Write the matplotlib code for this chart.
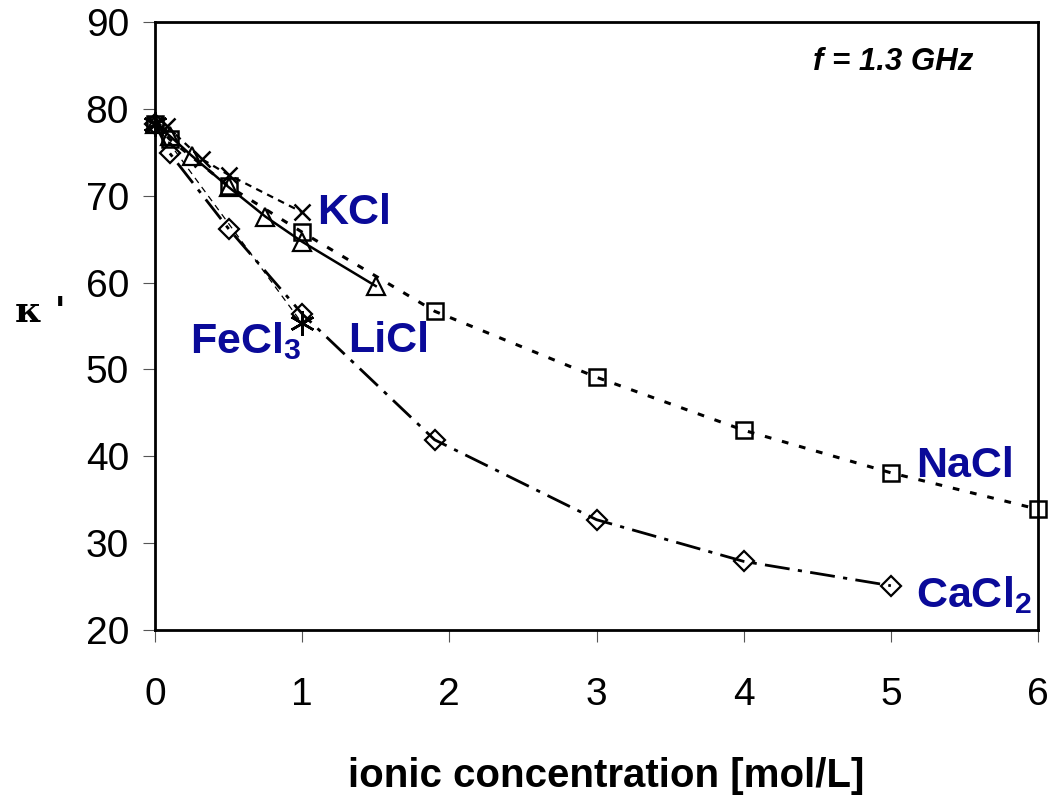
import matplotlib
matplotlib.use("Agg")
import matplotlib.pyplot as plt

# dielectric constant vs ionic concentration at 1.3 GHz
nacl_x = [0, 0.1, 0.5, 1, 1.9, 3, 4, 5, 6]
nacl_y = [78.3, 76.5, 71.1, 65.8, 56.7, 49.1, 43.0, 38.1, 33.9]

cacl2_x = [0, 0.1, 0.5, 1, 1.9, 3, 4, 5]
cacl2_y = [78.3, 74.9, 66.2, 56.4, 41.9, 32.7, 27.9, 25.1]

licl_x = [0, 0.1, 0.25, 0.5, 0.75, 1, 1.5]
licl_y = [78.3, 76.9, 74.6, 71.0, 67.6, 64.7, 59.6]

kcl_x = [0, 0.08, 0.32, 0.5, 1]
kcl_y = [78.3, 78.0, 74.2, 72.4, 68.1]

fecl3_x = [0, 1]
fecl3_y = [78.3, 55.3]

x_ticks = [0, 1, 2, 3, 4, 5, 6]
y_ticks = [20, 30, 40, 50, 60, 70, 80, 90]

plt.rcParams['font.family'] = ['Liberation Sans', 'DejaVu Sans']
plt.rcParams['mathtext.fontset'] = 'custom'
plt.rcParams['mathtext.bf'] = 'Liberation Sans:bold'
plt.rcParams['mathtext.rm'] = 'Liberation Sans:bold'

blue = '#0a0a99'

fig = plt.figure(figsize=(10.57, 7.99), dpi=100)
ax = fig.add_axes([0.1466, 0.2115, 0.8355, 0.761])

# lines
ax.plot(fecl3_x, fecl3_y, color='k', lw=0.9, ls=(0, (5, 4)), zorder=2)
ax.plot(cacl2_x, cacl2_y, color='k', lw=2.0, ls=(0, (9, 3, 1.5, 3)), zorder=2)
ax.plot(nacl_x, nacl_y, color='k', lw=2.2, ls=(0, (2.2, 3.6)), zorder=2)
ax.plot(licl_x, licl_y, color='k', lw=1.8, ls='-', zorder=2)
ax.plot(kcl_x, kcl_y, color='k', lw=1.6, ls=(0, (3, 2.5)), zorder=2)

# markers
mk = dict(ls='none', zorder=3, clip_on=False)
ax.plot(nacl_x, nacl_y, marker='s', ms=12, mfc='none', mec='k', mew=1.8, **mk)
ax.plot(cacl2_x, cacl2_y, marker='D', ms=10, mfc='none', mec='k', mew=1.6, **mk)
ax.plot(licl_x, licl_y, marker='^', ms=13, mfc='none', mec='k', mew=1.6, **mk)
ax.plot(kcl_x, kcl_y, marker='x', ms=11, mec='k', mew=1.8, **mk)
ax.plot(fecl3_x, fecl3_y, marker=(6, 2, 0), ms=18, mec='k', mew=1.8, **mk)

# series labels
lab_kw = dict(color=blue, fontsize=31, fontweight='bold', va='center', ha='left')
ax.text(1.1, 68.0, 'KCl', **lab_kw)
ax.text(0.24, 53.3, r'$\mathbf{FeCl_3}$', **lab_kw)
ax.text(1.31, 53.3, 'LiCl', **lab_kw)
ax.text(5.17, 38.9, 'NaCl', **lab_kw)
ax.text(5.17, 24.0, r'$\mathbf{CaCl_2}$', **lab_kw)
ax.text(4.47, 85.4, 'f = 1.3 GHz', fontsize=22.5, fontweight='bold', fontstyle='italic',
        va='center', ha='left', color='k')

ax.set_xlim(0, 6)
ax.set_ylim(20, 90)
ax.set_xticks(x_ticks)
ax.set_yticks(y_ticks)
ax.tick_params(axis='both', direction='out', length=8.6, width=0.8, color='#555555',
               labelsize=28, pad=10)
ax.tick_params(axis='x', pad=25)
for sp in ax.spines.values():
    sp.set_linewidth(2)
    sp.set_color('k')

ax.set_xlabel('ionic concentration [mol/L]', fontsize=29, fontweight='bold', labelpad=32, x=0.511)
fig.text(0.014, 0.609, "\u03ba '", fontsize=26, fontweight='bold', family=['DejaVu Serif'],
         va='center', ha='left')

fig.savefig('out.png', dpi=100)
